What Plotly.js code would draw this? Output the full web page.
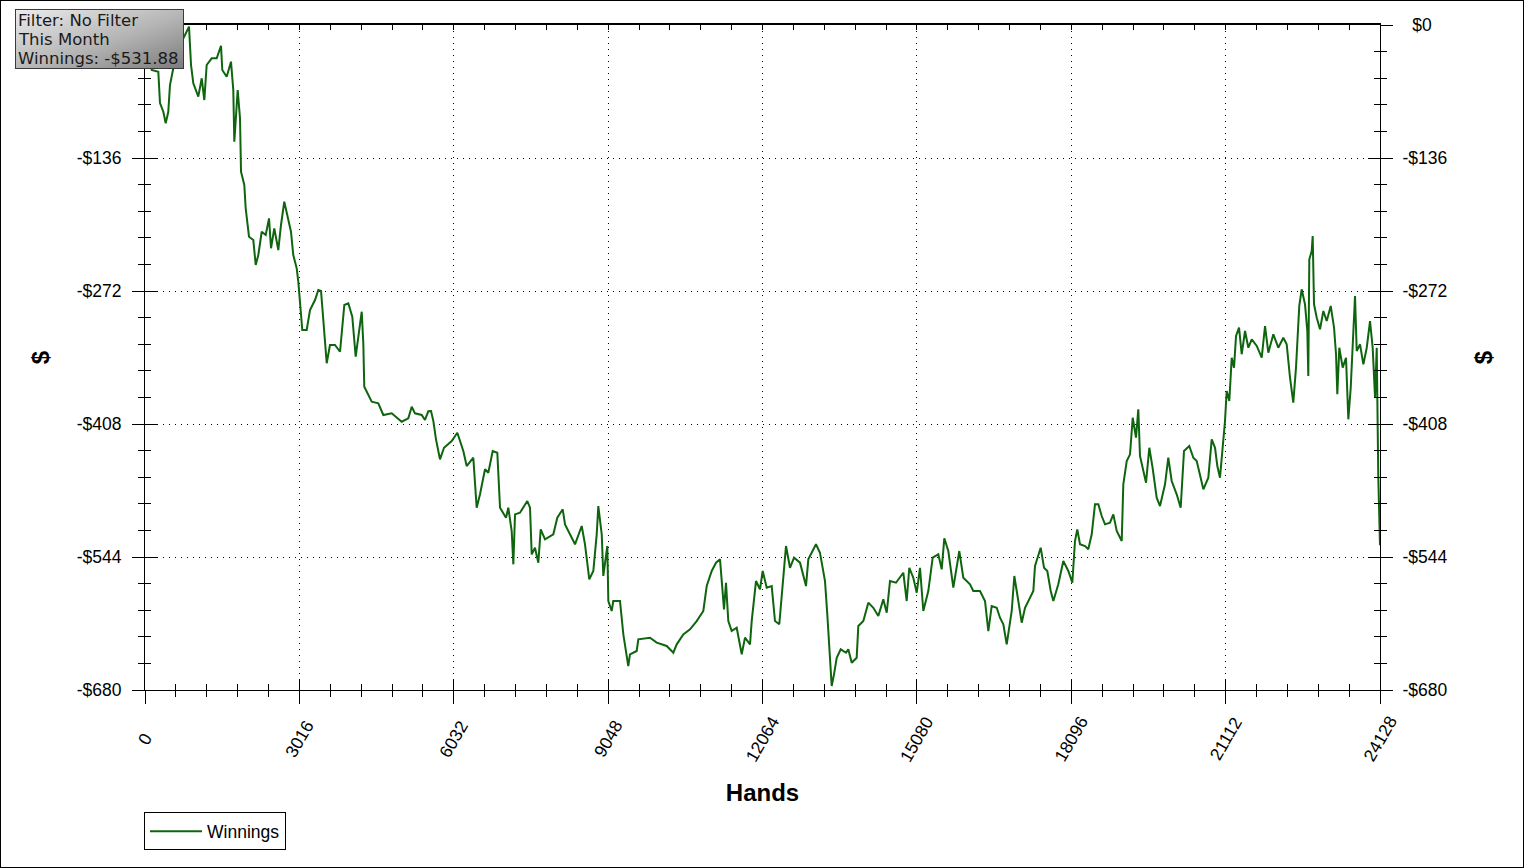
<!DOCTYPE html>
<html>
<head>
<meta charset="utf-8">
<script src="https://cdn.plot.ly/plotly-3.0.1.min.js"></script>
<style>
html,body{margin:0;padding:0;background:#fff;}
#wrap{width:1522px;height:866px;border:1px solid #000;overflow:hidden;}
#chart{width:1522px;height:866px;}
</style>
</head>
<body>
<div id="wrap"><div id="chart"></div></div>
<script>
// ---- data ----
const hands = [0,131,260,293,358,404,455,488,553,651,781,860,899,944,1041,1108,1159,1205,1303,1401,1485,1510,1596,1680,1725,1745,1811,1856,1876,1940,1967,2032,2116,2163,2214,2280,2358,2423,2462,2526,2604,2657,2721,2800,2852,2897,2964,2995,3028,3073,3159,3224,3321,3386,3439,3483,3550,3614,3712,3810,3894,3972,4050,4116,4200,4234,4265,4284,4429,4558,4656,4820,5015,5144,5211,5275,5406,5470,5535,5588,5633,5685,5763,5842,5992,6102,6219,6285,6414,6480,6545,6643,6707,6793,6883,6936,7053,7098,7164,7196,7229,7326,7469,7522,7555,7619,7684,7731,7815,7977,8055,8161,8206,8303,8401,8532,8596,8680,8759,8825,8856,8923,8954,9032,9052,9118,9149,9280,9345,9442,9475,9606,9638,9866,9997,10192,10322,10388,10517,10648,10778,10908,10974,11072,11156,11234,11267,11312,11351,11396,11462,11560,11658,11722,11820,11853,11937,12015,12068,12146,12244,12308,12392,12459,12523,12601,12680,12797,12914,12959,13045,13109,13187,13285,13330,13369,13416,13461,13514,13592,13695,13740,13807,13904,13936,14034,14131,14229,14327,14424,14491,14555,14672,14815,14881,14932,15010,15077,15141,15206,15303,15389,15499,15565,15616,15694,15792,15909,15987,16118,16182,16313,16411,16476,16542,16640,16704,16769,16835,16933,16984,17062,17128,17193,17290,17355,17388,17499,17564,17628,17695,17746,17843,17941,18039,18117,18169,18214,18267,18365,18429,18496,18560,18625,18691,18756,18853,18918,18984,19082,19113,19180,19244,19297,19361,19406,19439,19492,19557,19621,19685,19765,19830,19928,19992,20058,20156,20234,20299,20402,20481,20547,20612,20677,20774,20840,20905,20950,21002,21055,21100,21133,21184,21231,21276,21315,21374,21426,21491,21556,21622,21720,21817,21882,21946,22044,22141,22239,22305,22370,22434,22487,22513,22551,22598,22663,22708,22727,22747,22794,22813,22839,22892,22956,23021,23087,23165,23230,23269,23294,23333,23399,23464,23509,23556,23607,23640,23673,23738,23803,23869,23933,23985,24031,24064,24095,24128];
const winnings = [0,-46.0,-47.8,-79.8,-88.7,-100.5,-88.7,-61.4,-44.3,-23.8,-10.2,-1.7,-40.9,-59.6,-73.3,-54.5,-76.7,-40.9,-34.1,-34.1,-21.2,-46.0,-52.9,-37.5,-66.5,-119.3,-66.5,-95.4,-150.0,-163.6,-187.4,-216.5,-219.9,-245.4,-235.2,-211.4,-214.7,-197.7,-228.3,-207.9,-230.1,-204.5,-180.7,-201.1,-211.4,-235.2,-248.8,-262.5,-286.3,-311.9,-311.9,-291.4,-281.2,-271.0,-272.0,-305.0,-345.9,-327.2,-327.2,-334.1,-286.3,-284.6,-298.3,-339.2,-306.8,-293.2,-325.5,-369.9,-385.2,-386.8,-398.8,-397.1,-405.7,-402.2,-390.3,-397.1,-398.8,-403.9,-395.0,-394.7,-404.9,-423.7,-444.1,-432.3,-425.4,-416.9,-435.6,-451.0,-442.5,-493.6,-479.9,-454.3,-457.8,-435.6,-437.4,-493.6,-503.8,-493.6,-517.4,-551.5,-500.4,-498.7,-486.8,-493.6,-541.3,-534.5,-549.8,-515.7,-525.9,-520.8,-503.8,-495.2,-510.6,-520.8,-531.0,-512.3,-531.0,-566.8,-558.3,-520.8,-491.9,-520.8,-563.4,-532.8,-589.0,-599.2,-589.0,-589.0,-623.1,-655.5,-643.5,-640.1,-628.2,-626.5,-631.6,-635.0,-641.9,-633.3,-623.1,-617.9,-609.5,-599.2,-573.7,-558.3,-549.8,-546.4,-571.9,-597.5,-570.3,-609.5,-619.7,-616.3,-643.5,-626.5,-633.3,-609.5,-568.6,-577.0,-558.3,-575.4,-573.7,-609.5,-612.8,-575.4,-532.8,-555.0,-544.7,-549.8,-573.7,-546.4,-537.9,-531.0,-539.6,-568.6,-602.6,-633.3,-675.9,-664.0,-647.0,-638.4,-641.9,-638.4,-652.1,-647.0,-614.6,-609.5,-590.7,-595.9,-604.3,-587.3,-601.0,-568.6,-570.3,-560.1,-589.0,-555.0,-565.2,-580.5,-555.0,-599.2,-578.8,-544.7,-541.3,-556.6,-524.9,-537.9,-575.4,-537.9,-565.2,-571.9,-578.8,-578.8,-589.0,-619.7,-594.1,-595.9,-606.1,-612.8,-633.3,-599.2,-563.4,-589.0,-611.2,-595.9,-585.6,-578.8,-553.2,-534.5,-555.0,-558.3,-578.8,-589.0,-571.9,-548.1,-558.3,-570.3,-527.7,-515.7,-531.0,-532.8,-536.1,-520.8,-490.1,-490.1,-502.1,-510.6,-508.9,-500.4,-517.4,-527.7,-469.7,-445.9,-439.0,-401.6,-422.0,-393.0,-440.7,-452.7,-468.0,-432.3,-452.7,-483.4,-491.9,-469.7,-442.5,-466.3,-479.9,-493.6,-435.6,-430.5,-442.5,-445.9,-459.5,-474.8,-462.9,-423.7,-432.3,-451.0,-462.9,-432.3,-404.9,-374.3,-384.5,-340.2,-350.4,-318.0,-309.5,-336.7,-312.9,-330.0,-321.4,-328.2,-340.2,-307.8,-335.1,-316.3,-330.0,-319.8,-326.5,-360.7,-386.2,-350.4,-318.0,-287.3,-270.3,-285.6,-312.9,-358.9,-239.6,-231.1,-215.8,-285.6,-299.3,-311.2,-292.5,-302.7,-287.3,-309.5,-336.7,-377.6,-330.0,-350.4,-340.2,-403.2,-370.9,-319.8,-277.1,-333.4,-326.5,-347.0,-330.0,-302.7,-330.0,-381.1,-330.0,-462.9,-531.88];

const xTicks = [0,3016,6032,9048,12064,15080,18096,21112,24128];
const xTickLabels = ['0','3016','6032','9048','12064','15080','18096','21112','24128'];
const yTicks = [0,-136,-272,-408,-544,-680];
const yTickLabels = ['','-$136','-$272','-$408','-$544','-$680'];
const yTickLabelsRight = ['\u00a0\u00a0$0','-$136','-$272','-$408','-$544','-$680'];
const seriesName = 'Winnings';
const infoLines = ['Filter: No Filter','This Month','Winnings: -$531.88'];

// ---- styling ----
const FONT = 'Liberation Sans, Arial, sans-serif';
const lineColor = '#0e650e';
const xRange = [0, 24128];
const yRange = [-680, 0];
const xMinor = 603.2, yMinor = 27.2;

function tickAxis(extra){
  return Object.assign({
    showgrid:false, zeroline:false, showticklabels:false, showline:false,
    tickcolor:'#000', tickwidth:1, fixedrange:true
  }, extra);
}

const traces = [
  {x:hands, y:winnings, type:'scatter', mode:'lines', name:seriesName,
   line:{color:lineColor, width:2}, hoverinfo:'skip'},
  {x:[], y:[], xaxis:'x2', yaxis:'y', showlegend:false, hoverinfo:'skip'},
  {x:[], y:[], xaxis:'x3', yaxis:'y', showlegend:false, hoverinfo:'skip'},
  {x:[], y:[], xaxis:'x', yaxis:'y2', showlegend:false, hoverinfo:'skip'},
  {x:[], y:[], xaxis:'x', yaxis:'y3', showlegend:false, hoverinfo:'skip'},
  {x:[], y:[], xaxis:'x', yaxis:'y4', showlegend:false, hoverinfo:'skip'}
];

const annotations = xTicks.map((v,i)=>({
  x:v, y:0, xref:'x', yref:'paper', yshift:-49, text:xTickLabels[i],
  showarrow:false, textangle:-60, xanchor:'center', yanchor:'middle',
  font:{family:FONT, size:17.5, color:'#000'}
}));
const infoY = [1.00721, 0.97849, 0.94917];
infoLines.forEach((t,i)=>annotations.push({
  x:-0.10364, y:infoY[i], xref:'paper', yref:'paper', text:t, showarrow:false,
  xanchor:'left', yanchor:'middle', align:'left', borderpad:0,
  font:{family:'DejaVu Sans, Verdana, sans-serif', size:16.5, color:'#1a1a1a'}
}));

const boxSvg = "<svg xmlns='http://www.w3.org/2000/svg' width='169' height='60' viewBox='0 0 169 60' preserveAspectRatio='none'>" +
  "<defs><linearGradient id='g' x1='0' y1='0' x2='1' y2='1'>" +
  "<stop offset='0' stop-color='#ececec'/><stop offset='0.55' stop-color='#b4b4b4'/><stop offset='1' stop-color='#7c7c7c'/></linearGradient></defs>" +
  "<rect x='0.5' y='0.5' width='168' height='59' fill='url(#g)' stroke='#3a3a3a' stroke-width='1'/></svg>";

const layout = {
  width:1522, height:866,
  margin:{l:144, r:143, t:24, b:177, pad:0},
  paper_bgcolor:'#fff', plot_bgcolor:'#fff',
  font:{family:FONT, size:17.5, color:'#000'},
  showlegend:true,
  legend:{x:-0.0008, y:-0.21278, xanchor:'left', yanchor:'middle',
    bordercolor:'#000', borderwidth:1, bgcolor:'#fff',
    font:{family:FONT, size:17.5, color:'#000'}, itemwidth:52},
  xaxis:{
    range:xRange, tickmode:'array', tickvals:xTicks, showticklabels:false,
    ticks:'outside', ticklen:13, tickcolor:'#000', tickwidth:1,
    showline:true, linecolor:'#000', linewidth:1,
    showgrid:true, gridcolor:'#000', gridwidth:1, griddash:'1px,5px',
    zeroline:false, fixedrange:true,
    minor:{tickmode:'linear', tick0:0, dtick:xMinor, ticks:'outside', ticklen:6, tickcolor:'#000', tickwidth:1, showgrid:false},
    title:{text:'Hands', standoff:81, font:{family:FONT, size:24, color:'#000', weight:'bold'}}
  },
  xaxis2: tickAxis({range:xRange, overlaying:'x', anchor:'y', side:'bottom',
    tickmode:'array', tickvals:xTicks, ticks:'inside', ticklen:11,
    minor:{tickmode:'linear', tick0:0, dtick:xMinor, ticks:'inside', ticklen:6, tickcolor:'#000', showgrid:false}}),
  xaxis3: tickAxis({range:xRange, overlaying:'x', anchor:'y', side:'top',
    showline:true, linecolor:'#000', linewidth:2,
    tickmode:'array', tickvals:xTicks, ticks:'inside', ticklen:5,
    minor:{tickmode:'linear', tick0:0, dtick:xMinor, ticks:'inside', ticklen:5, tickcolor:'#000', showgrid:false}}),
  yaxis:{
    range:yRange, tickmode:'array', tickvals:yTicks, ticktext:yTickLabels,
    ticks:'outside', ticklen:12, tickcolor:'#000', tickwidth:1,
    ticklabelstandoff:7,
    showline:true, linecolor:'#000', linewidth:1,
    showgrid:true, gridcolor:'#000', gridwidth:1, griddash:'1px,5px',
    zeroline:false, fixedrange:true,
    tickfont:{family:FONT, size:17.5, color:'#000'},
    minor:{tickmode:'linear', tick0:0, dtick:yMinor, ticks:'outside', ticklen:6, tickcolor:'#000', tickwidth:1, showgrid:false},
    title:{text:'$', standoff:20, font:{family:FONT, size:24, color:'#000', weight:'bold'}}
  },
  yaxis2: tickAxis({range:yRange, overlaying:'y', anchor:'x', side:'left',
    tickmode:'array', tickvals:yTicks, ticks:'inside', ticklen:12,
    minor:{tickmode:'linear', tick0:0, dtick:yMinor, ticks:'inside', ticklen:6, tickcolor:'#000', showgrid:false}}),
  yaxis3: tickAxis({range:yRange, overlaying:'y', anchor:'x', side:'right',
    showline:true, linecolor:'#000', linewidth:1,
    tickmode:'array', tickvals:yTicks, ticktext:yTickLabelsRight, showticklabels:true,
    ticks:'outside', ticklen:12, ticklabelstandoff:6,
    tickfont:{family:FONT, size:17.5, color:'#000'},
    minor:{tickmode:'linear', tick0:0, dtick:yMinor, ticks:'outside', ticklen:6, tickcolor:'#000', showgrid:false},
    title:{text:'$', standoff:28, font:{family:FONT, size:24, color:'#000', weight:'bold'}}}),
  yaxis4: tickAxis({range:yRange, overlaying:'y', anchor:'x', side:'right',
    tickmode:'array', tickvals:yTicks, ticks:'inside', ticklen:12,
    minor:{tickmode:'linear', tick0:0, dtick:yMinor, ticks:'inside', ticklen:6, tickcolor:'#000', showgrid:false}}),
  annotations:annotations,
  images:[{
    source:'data:image/svg+xml;charset=utf-8,' + encodeURIComponent(boxSvg),
    xref:'paper', yref:'paper', x:-0.10526, y:1.02406, sizex:0.13684, sizey:0.09023,
    xanchor:'left', yanchor:'top', sizing:'stretch', layer:'above'
  }]
};

Plotly.newPlot('chart', traces, layout, {staticPlot:true, displayModeBar:false});
</script>
</body>
</html>
